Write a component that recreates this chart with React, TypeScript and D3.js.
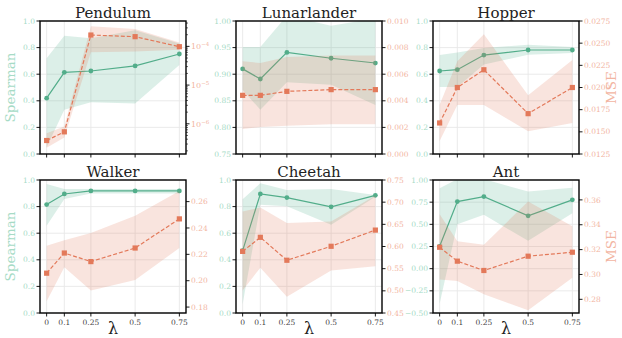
import { useEffect, useRef } from 'react'
import * as d3 from 'd3'

const LAMBDAS = [0, 0.1, 0.25, 0.5, 0.75]
const LAMBDA_LABELS = ['0', '0.1', '0.25', '0.5', '0.75']

// Spearman (mean, lower, upper) per environment
const pendulumSp = [0.42, 0.614, 0.624, 0.662, 0.752]
const pendulumSpLo = [0.05, 0.333, 0.39, 0.38, 0.67]
const pendulumSpHi = [0.72, 0.89, 0.87, 0.93, 0.83]
const lunarSp = [0.91, 0.891, 0.941, 0.93, 0.921]
const lunarSpLo = [0.871, 0.833, 0.885, 0.88, 0.842]
const lunarSpHi = [0.951, 0.951, 1.01, 0.991, 1.005]
const hopperSp = [0.624, 0.634, 0.744, 0.782, 0.782]
const hopperSpLo = [0.504, 0.504, 0.672, 0.747, 0.76]
const hopperSpHi = [0.744, 0.764, 0.797, 0.822, 0.805]
const walkerSp = [0.815, 0.895, 0.918, 0.918, 0.918]
const walkerSpLo = [0.656, 0.858, 0.898, 0.898, 0.898]
const walkerSpHi = [0.97, 0.933, 0.933, 0.933, 0.933]
const cheetahSp = [0.469, 0.895, 0.868, 0.798, 0.885]
const cheetahSpLo = [0.065, 0.813, 0.803, 0.663, 0.875]
const cheetahSpHi = [0.855, 0.975, 0.925, 0.933, 0.888]
const antSp = [0.252, 0.757, 0.813, 0.596, 0.776]
const antSpLo = [-0.395, 0.502, 0.607, 0.315, 0.626]
const antSpHi = [0.906, 1.01, 1.01, 0.869, 0.914]

// MSE (mean, lower, upper) per environment
const pendulumMse = [3.7e-7, 6.2e-7, 1.96e-4, 1.78e-4, 9.8e-5]
const pendulumMseLo = [2.4e-7, 4.4e-7, 7e-5, 7.4e-5, 8.2e-5]
const pendulumMseHi = [5.7e-7, 8.5e-7, 3.3e-4, 2.8e-4, 1.26e-4]
const lunarMse = [0.00441, 0.00441, 0.00471, 0.00484, 0.00484]
const lunarMseLo = [0.00188, 0.00203, 0.00213, 0.00223, 0.00223]
const lunarMseHi = [0.00697, 0.00684, 0.0073, 0.0074, 0.0074]
const hopperMse = [0.016, 0.02, 0.022, 0.01705, 0.02]
const hopperMseLo = [0.01397, 0.01803, 0.01803, 0.01506, 0.016]
const hopperMseHi = [0.01806, 0.02295, 0.026, 0.01912, 0.0231]
const walkerMse = [0.2057, 0.221, 0.2145, 0.2248, 0.2469]
const walkerMseLo = [0.1845, 0.2102, 0.1926, 0.2006, 0.2248]
const walkerMseHi = [0.2265, 0.2306, 0.2361, 0.2492, 0.268]
const cheetahMse = [0.589, 0.6207, 0.569, 0.6005, 0.637]
const cheetahMseLo = [0.501, 0.552, 0.4867, 0.5458, 0.5555]
const cheetahMseHi = [0.679, 0.688, 0.653, 0.6566, 0.715]
const antMse = [0.3219, 0.3107, 0.3032, 0.3147, 0.3179]
const antMseLo = [0.296, 0.2947, 0.284, 0.2712, 0.2973]
const antMseHi = [0.3485, 0.3267, 0.324, 0.3587, 0.3387]

// axis ticks
const unitTicks = [0, 0.2, 0.4, 0.6, 0.8, 1.0]
const lunarLeftTicks = [0.75, 0.8, 0.85, 0.9, 0.95, 1.0]
const antLeftTicks = [-0.5, -0.25, 0, 0.25, 0.5, 0.75, 1.0]
const pendulumRightTicks = [1e-6, 1e-5, 1e-4]
const lunarRightTicks = [0, 0.002, 0.004, 0.006, 0.008, 0.01]
const hopperRightTicks = [0.0125, 0.015, 0.0175, 0.02, 0.0225, 0.025, 0.0275]
const walkerRightTicks = [0.18, 0.2, 0.22, 0.24, 0.26]
const cheetahRightTicks = [0.45, 0.5, 0.55, 0.6, 0.65, 0.7, 0.75]
const antRightTicks = [0.28, 0.3, 0.32, 0.34, 0.36]

const GREEN = '#52ad8a'
const ORANGE = '#e3795a'
const GREEN_TXT = '#a6dbc6'
const ORANGE_TXT = '#f2b5a2'
const FONT = 'DejaVu Serif'
const TICK_SIZE = 7.5

const panels = [
  { name: 'Pendulum', row: 0, col: 0, sp: pendulumSp, spLo: pendulumSpLo, spHi: pendulumSpHi,
    mse: pendulumMse, mseLo: pendulumMseLo, mseHi: pendulumMseHi,
    left: [0, 1], leftTicks: unitTicks, leftFmt: '.1f',
    right: [Math.pow(10, -6.78), Math.pow(10, -3.345)], rightTicks: pendulumRightTicks, log: true },
  { name: 'Lunarlander', row: 0, col: 1, sp: lunarSp, spLo: lunarSpLo, spHi: lunarSpHi,
    mse: lunarMse, mseLo: lunarMseLo, mseHi: lunarMseHi,
    left: [0.75, 1], leftTicks: lunarLeftTicks, leftFmt: '.2f',
    right: [0, 0.01], rightTicks: lunarRightTicks, rightFmt: '.3f' },
  { name: 'Hopper', row: 0, col: 2, sp: hopperSp, spLo: hopperSpLo, spHi: hopperSpHi,
    mse: hopperMse, mseLo: hopperMseLo, mseHi: hopperMseHi,
    left: [0, 1], leftTicks: unitTicks, leftFmt: '.1f',
    right: [0.0125, 0.0275], rightTicks: hopperRightTicks, rightFmt: '.4f' },
  { name: 'Walker', row: 1, col: 0, sp: walkerSp, spLo: walkerSpLo, spHi: walkerSpHi,
    mse: walkerMse, mseLo: walkerMseLo, mseHi: walkerMseHi,
    left: [0, 1], leftTicks: unitTicks, leftFmt: '.1f',
    right: [0.1755, 0.2764], rightTicks: walkerRightTicks, rightFmt: '.2f' },
  { name: 'Cheetah', row: 1, col: 1, sp: cheetahSp, spLo: cheetahSpLo, spHi: cheetahSpHi,
    mse: cheetahMse, mseLo: cheetahMseLo, mseHi: cheetahMseHi,
    left: [0, 1], leftTicks: unitTicks, leftFmt: '.1f',
    right: [0.45, 0.75], rightTicks: cheetahRightTicks, rightFmt: '.2f' },
  { name: 'Ant', row: 1, col: 2, sp: antSp, spLo: antSpLo, spHi: antSpHi,
    mse: antMse, mseLo: antMseLo, mseHi: antMseHi,
    left: [-0.5, 1], leftTicks: antLeftTicks, leftFmt: '.2f',
    right: [0.269, 0.376], rightTicks: antRightTicks, rightFmt: '.2f' },
]

const COLS = [40, 236, 433]
const ROWS = [21, 180]
const PW = 146
const PH = 133

export default function App() {
  const svgRef = useRef<SVGSVGElement>(null)

  useEffect(() => {
    const svg = d3.select(svgRef.current)
    svg.selectAll('*').remove()
    svg.style('font-family', FONT)
    const defs = svg.append('defs')

    panels.forEach((p, i) => {
      const x0 = COLS[p.col]
      const y0 = ROWS[p.row]
      const g = svg.append('g').attr('transform', `translate(${x0},${y0})`)

      defs.append('clipPath').attr('id', `clip-${i}`)
        .append('rect').attr('width', PW).attr('height', PH)

      const x = d3.scaleLinear().domain([-0.0375, 0.7875]).range([0, PW])
      const yL = d3.scaleLinear().domain(p.left).range([PH, 0])
      const yR = p.log
        ? d3.scaleLog().domain(p.right).range([PH, 0])
        : d3.scaleLinear().domain(p.right).range([PH, 0])

      // grid
      const grid = g.append('g').attr('stroke', '#e8e8e8').attr('stroke-width', 0.9)
      p.leftTicks.forEach((t) => {
        grid.append('line').attr('x1', 0).attr('x2', PW).attr('y1', yL(t)).attr('y2', yL(t))
      })
      LAMBDAS.forEach((t) => {
        grid.append('line').attr('x1', x(t)).attr('x2', x(t)).attr('y1', 0).attr('y2', PH)
      })

      const body = g.append('g').attr('clip-path', `url(#clip-${i})`)
      const idx = d3.range(LAMBDAS.length)

      const area = (lo: number[], hi: number[], sc: any) =>
        d3.area<number>().x((k) => x(LAMBDAS[k])).y0((k) => sc(lo[k])).y1((k) => sc(hi[k]))(idx)
      const line = (v: number[], sc: any) =>
        d3.line<number>().x((k) => x(LAMBDAS[k])).y((k) => sc(v[k]))(idx)

      body.append('path').attr('d', area(p.spLo, p.spHi, yL)).attr('fill', GREEN).attr('opacity', 0.2)
      body.append('path').attr('d', line(p.sp, yL)).attr('fill', 'none').attr('stroke', GREEN).attr('stroke-width', 1.2)
      idx.forEach((k) => {
        body.append('circle').attr('cx', x(LAMBDAS[k])).attr('cy', yL(p.sp[k])).attr('r', 2.4).attr('fill', GREEN)
      })

      body.append('path').attr('d', area(p.mseLo, p.mseHi, yR)).attr('fill', ORANGE).attr('opacity', 0.2)
      body.append('path').attr('d', line(p.mse, yR)).attr('fill', 'none').attr('stroke', ORANGE)
        .attr('stroke-width', 1.2).attr('stroke-dasharray', '4,2')
      idx.forEach((k) => {
        body.append('rect').attr('x', x(LAMBDAS[k]) - 2.6).attr('y', yR(p.mse[k]) - 2.6)
          .attr('width', 5.2).attr('height', 5.2).attr('fill', ORANGE)
      })

      // frame
      g.append('rect').attr('width', PW).attr('height', PH).attr('fill', 'none')
        .attr('stroke', '#000').attr('stroke-width', 1.4)

      // left ticks
      const fl = d3.format(p.leftFmt)
      p.leftTicks.forEach((t) => {
        g.append('line').attr('x1', -3.5).attr('x2', 0).attr('y1', yL(t)).attr('y2', yL(t)).attr('stroke', '#000').attr('stroke-width', 0.9)
        g.append('text').attr('x', -5).attr('y', yL(t)).attr('dy', '0.35em').attr('text-anchor', 'end')
          .attr('font-size', TICK_SIZE).attr('fill', GREEN_TXT).text(fl(t))
      })

      // right ticks
      if (p.log) {
        const [lo, hi] = p.right
        for (let e = -7; e <= -3; e++) {
          for (let m = 2; m <= 9; m++) {
            const v = m * Math.pow(10, e)
            if (v < lo || v > hi) continue
            g.append('line').attr('x1', PW).attr('x2', PW + 2).attr('y1', yR(v)).attr('y2', yR(v)).attr('stroke', '#000').attr('stroke-width', 0.6)
          }
        }
        p.rightTicks.forEach((t) => {
          g.append('line').attr('x1', PW).attr('x2', PW + 3.5).attr('y1', yR(t)).attr('y2', yR(t)).attr('stroke', '#000').attr('stroke-width', 0.9)
          const tx = g.append('text').attr('x', PW + 5).attr('y', yR(t)).attr('dy', '0.35em')
            .attr('font-size', TICK_SIZE + 0.5).attr('fill', ORANGE_TXT)
          tx.append('tspan').text('10')
          tx.append('tspan').attr('dy', '-0.5em').attr('font-size', 5.5).text(`\u2212${Math.round(-Math.log10(t))}`)
        })
      } else {
        const fr = d3.format(p.rightFmt as string)
        p.rightTicks.forEach((t) => {
          g.append('line').attr('x1', PW).attr('x2', PW + 3.5).attr('y1', yR(t)).attr('y2', yR(t)).attr('stroke', '#000').attr('stroke-width', 0.9)
          g.append('text').attr('x', PW + 5).attr('y', yR(t)).attr('dy', '0.35em')
            .attr('font-size', TICK_SIZE).attr('fill', ORANGE_TXT).text(fr(t))
        })
      }

      // x ticks
      LAMBDAS.forEach((t, k) => {
        g.append('line').attr('x1', x(t)).attr('x2', x(t)).attr('y1', PH).attr('y2', PH + 3.5).attr('stroke', '#000').attr('stroke-width', 0.9)
        if (p.row === 1) {
          g.append('text').attr('x', x(t)).attr('y', PH + 11.5).attr('text-anchor', 'middle')
            .attr('font-size', TICK_SIZE).attr('fill', '#444').text(LAMBDA_LABELS[k])
        }
      })
      if (p.row === 1) {
        g.append('text').attr('x', PW / 2).attr('y', PH + 21).attr('text-anchor', 'middle')
          .attr('font-size', 16).attr('fill', '#222').text('\u03bb')
      }

      // title
      g.append('text').attr('x', PW / 2).attr('y', -3).attr('text-anchor', 'middle')
        .attr('font-size', 15).attr('fill', '#222').text(p.name)

      // axis labels
      if (p.col === 0) {
        g.append('text').attr('transform', `translate(${-25},${PH / 2}) rotate(-90)`).attr('text-anchor', 'middle')
          .attr('font-size', 13.5).attr('fill', GREEN_TXT).text('Spearman')
      }
      if (p.col === 2) {
        g.append('text').attr('transform', `translate(${PW + 37},${PH / 2}) rotate(-90)`).attr('text-anchor', 'middle')
          .attr('font-size', 13.5).attr('fill', ORANGE_TXT).text('MSE')
      }
    })
  }, [])

  return (
    <svg ref={svgRef} width={622} height={338}
      style={{ position: 'absolute', left: 0, top: 0, background: '#fff' }} />
  )
}
